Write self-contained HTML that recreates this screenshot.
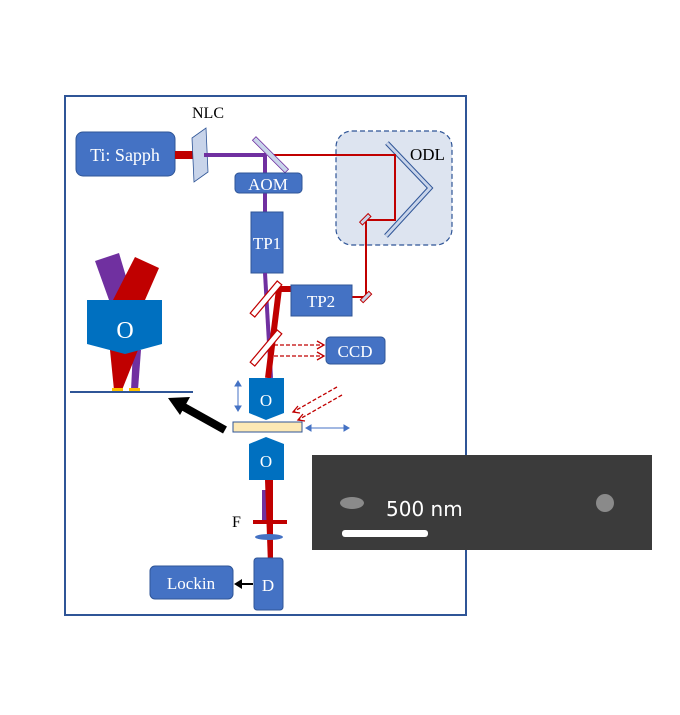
<!DOCTYPE html>
<html><head><style>body{margin:0;background:#fff}svg{display:block}</style></head><body>
<svg width="680" height="715" viewBox="0 0 680 715" xmlns="http://www.w3.org/2000/svg" font-family="Liberation Serif, serif">
<rect x="65" y="96" width="401" height="519" fill="#fff" stroke="#2f5597" stroke-width="2"/>
<rect x="336" y="131" width="116" height="114" rx="16" fill="#dde4f0" stroke="#2f5597" stroke-width="1.2" stroke-dasharray="5,3"/>
<path d="M387,143 L430,188 L386,236" fill="none" stroke="#2f5597" stroke-width="5"/>
<path d="M387,143 L430,188 L386,236" fill="none" stroke="#c8d4ea" stroke-width="3"/>
<text x="410" y="160" font-size="17">ODL</text>
<polyline points="268,155 395,155 395,220 366,220 366,297 352,297" fill="none" stroke="#c00000" stroke-width="2"/>
<rect x="360" y="217" width="12" height="4" fill="#c8d4ea" stroke="#c00000" transform="rotate(-45 366 220)"/>
<rect x="360" y="295" width="12" height="4" fill="#c8d4ea" stroke="#c00000" transform="rotate(-45 366 297)"/>
<rect x="76" y="132" width="99" height="44" rx="7" fill="#4472c4" stroke="#2f5597"/>
<text x="125" y="161" font-size="18" fill="#fff" text-anchor="middle">Ti: Sapph</text>
<rect x="175" y="151" width="20" height="8" fill="#c00000"/>
<text x="208" y="118" font-size="16" text-anchor="middle">NLC</text>
<polygon points="192,138 206,128 208,172 194,182" fill="#c8d4ea" stroke="#2f5597" stroke-width="0.8"/>
<line x1="204" y1="155" x2="266" y2="155" stroke="#7030a0" stroke-width="4"/>
<line x1="265" y1="155" x2="265" y2="212" stroke="#7030a0" stroke-width="4"/>
<rect x="248" y="150" width="46" height="5" fill="#c8d4ea" stroke="#7030a0" stroke-width="0.8" transform="rotate(45 268 153)"/>
<rect x="235" y="173" width="67" height="20" rx="4" fill="#4472c4" stroke="#2f5597"/>
<text x="268" y="190" font-size="17" fill="#fff" text-anchor="middle">AOM</text>
<rect x="251" y="212" width="32" height="61" fill="#4472c4" stroke="#2f5597"/>
<text x="267" y="249" font-size="17" fill="#fff" text-anchor="middle">TP1</text>
<line x1="265" y1="273" x2="271" y2="378" stroke="#7030a0" stroke-width="4"/>
<polyline points="292,289 279,289 268,378" fill="none" stroke="#c00000" stroke-width="6"/>
<rect x="245" y="296" width="42" height="6" fill="#fff" stroke="#c00000" stroke-width="1.2" transform="rotate(-50 266 299)"/>
<rect x="245" y="345" width="42" height="6" fill="#fff" stroke="#c00000" stroke-width="1.2" transform="rotate(-50 266 348)"/>
<rect x="291" y="285" width="61" height="31" fill="#4472c4" stroke="#2f5597"/>
<text x="321" y="307" font-size="17" fill="#fff" text-anchor="middle">TP2</text>
<rect x="326" y="337" width="59" height="27" rx="4" fill="#4472c4" stroke="#2f5597"/>
<text x="355" y="357" font-size="17" fill="#fff" text-anchor="middle">CCD</text>
<g stroke="#c00000" stroke-width="1.3" fill="none">
<line x1="274" y1="345" x2="324" y2="345" stroke-dasharray="4,2"/>
<line x1="274" y1="356" x2="324" y2="356" stroke-dasharray="4,2"/>
<polyline points="317,341 324,345 317,349"/><polyline points="317,352 324,356 317,360"/>
<line x1="337" y1="387" x2="293" y2="412" stroke-dasharray="4,2"/>
<line x1="342" y1="395" x2="298" y2="420" stroke-dasharray="4,2"/>
<polyline points="298,406 293,412 300,413"/><polyline points="303,414 298,420 305,421"/>
</g>
<polygon points="249,378 284,378 284,413 266,420 249,413" fill="#0070c0"/>
<text x="266" y="406" font-size="17" fill="#fff" text-anchor="middle">O</text>
<rect x="233" y="422" width="69" height="10" fill="#fde9b5" stroke="#2f5597"/>
<polygon points="249,444 266,437 284,444 284,480 249,480" fill="#0070c0"/>
<text x="266" y="467" font-size="17" fill="#fff" text-anchor="middle">O</text>
<g stroke="#4472c4" stroke-width="1" fill="#4472c4">
<line x1="238" y1="383" x2="238" y2="409"/><polygon points="235,386 238,381 241,386"/><polygon points="235,406 238,411 241,406"/>
<line x1="308" y1="428" x2="347" y2="428"/><polygon points="311,425 306,428 311,431"/><polygon points="344,425 349,428 344,431"/>
</g>
<line x1="225" y1="430" x2="182" y2="406" stroke="#000" stroke-width="8"/>
<polygon points="168,398 190,397 180,415" fill="#000"/>
<polygon points="95,261 119,253 133,300 109,300" fill="#7030a0"/>
<polygon points="135,257 159,268 145,300 113,300" fill="#c00000"/>
<polygon points="133,350 141,350 138,390 131,390" fill="#7030a0"/>
<polygon points="110,350 138,350 122,390 114,390" fill="#c00000"/>
<polygon points="87,300 162,300 162,344 125,354 87,344" fill="#0070c0"/>
<text x="125" y="338" font-size="24" fill="#fff" text-anchor="middle">O</text>
<rect x="112" y="388" width="11" height="4" fill="#ffc000"/>
<rect x="129" y="388" width="11" height="4" fill="#ffc000"/>
<line x1="70" y1="392" x2="193" y2="392" stroke="#2f5597" stroke-width="2"/>
<polygon points="262,490 268,490 268,522 262,522" fill="#7030a0"/>
<polygon points="265,480 273,480 273,565 268,565" fill="#c00000"/>
<text x="232" y="527" font-size="16">F</text>
<rect x="253" y="520" width="34" height="4" fill="#c00000"/>
<ellipse cx="269" cy="537" rx="14" ry="3" fill="#4472c4"/>
<rect x="254" y="558" width="29" height="52" rx="3" fill="#4472c4" stroke="#2f5597"/>
<text x="268" y="591" font-size="17" fill="#fff" text-anchor="middle">D</text>
<rect x="150" y="566" width="83" height="33" rx="5" fill="#4472c4" stroke="#2f5597"/>
<text x="191" y="589" font-size="17" fill="#fff" text-anchor="middle">Lockin</text>
<line x1="253" y1="584" x2="240" y2="584" stroke="#000" stroke-width="2"/>
<polygon points="234,584 242,579 242,589" fill="#000"/>
<rect x="312" y="455" width="340" height="95" fill="#3b3b3b"/>
<ellipse cx="352" cy="503" rx="12" ry="6" fill="#8a8a8a"/>
<ellipse cx="605" cy="503" rx="9" ry="9" fill="#8a8a8a"/>
<text x="386" y="516" font-size="20" fill="#fff" font-family="DejaVu Sans, sans-serif">500 nm</text>
<rect x="342" y="530" width="86" height="7" rx="3" fill="#fff"/>
</svg>
</body></html>
